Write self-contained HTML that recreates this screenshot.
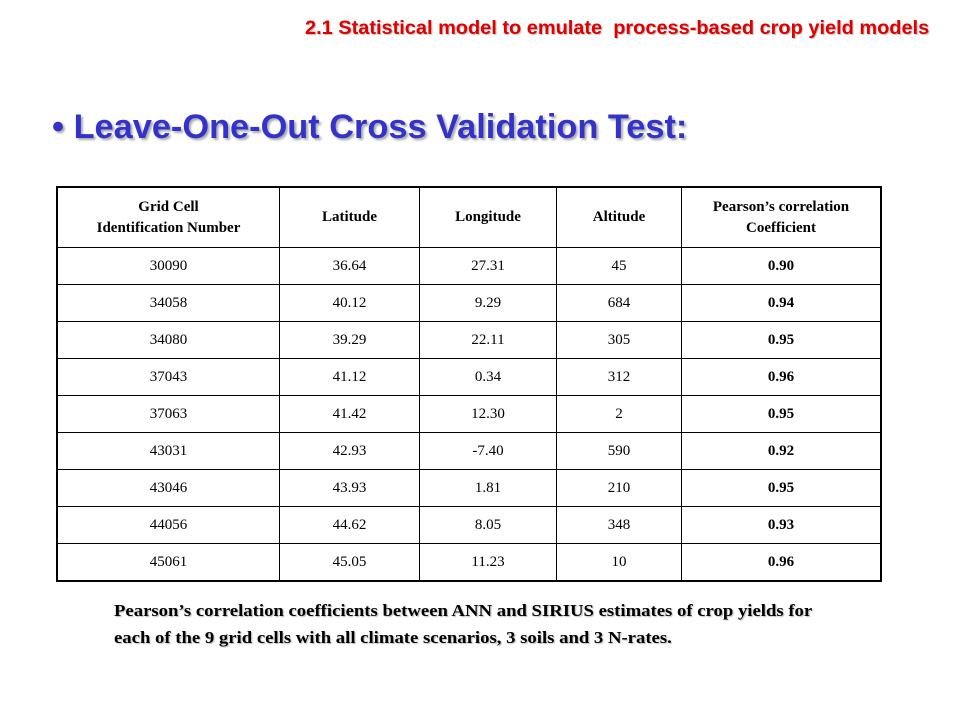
<!DOCTYPE html>
<html><head><meta charset="utf-8"><style>
body{margin:0;width:960px;height:720px;background:#fff;position:relative;overflow:hidden;font-family:"Liberation Serif",serif}
.t{position:absolute;white-space:nowrap}
#sub{left:305px;top:18px;color:#e00000;font:bold 19px "Liberation Sans",sans-serif;text-shadow:1px 1px 1px #bbb;transform-origin:left;transform:scaleX(1.05)}
#head{left:52px;top:108px;color:#3333cc;font:bold 34px "Liberation Sans",sans-serif;text-shadow:2px 2px 2px #aaa;transform-origin:left;transform:scaleX(1.01)}
table{position:absolute;left:56px;top:186px;border-collapse:collapse;border:2px solid #000}
td,th{border:1px solid #000;text-align:center;font-size:15px;padding:0;height:36px}
th{height:59px;font-weight:bold;line-height:21px}
td.b{font-weight:bold}
.cap{left:114px;font:bold 17px "Liberation Serif",serif;text-shadow:1px 1px 1px #bbb;transform-origin:left;transform:scaleX(1.1)}
</style></head><body>
<div class="t" id="sub">2.1 Statistical model to emulate &nbsp;process-based crop yield models</div>
<div class="t" id="head">• Leave-One-Out Cross Validation Test:</div>
<table>
<tr><th style="width:221px">Grid Cell<br>Identification Number</th><th style="width:139px">Latitude</th><th style="width:136px">Longitude</th><th style="width:124px">Altitude</th><th style="width:198px">Pearson’s correlation<br>Coefficient</th></tr>
<tr><td>30090</td><td>36.64</td><td>27.31</td><td>45</td><td class="b">0.90</td></tr>
<tr><td>34058</td><td>40.12</td><td>9.29</td><td>684</td><td class="b">0.94</td></tr>
<tr><td>34080</td><td>39.29</td><td>22.11</td><td>305</td><td class="b">0.95</td></tr>
<tr><td>37043</td><td>41.12</td><td>0.34</td><td>312</td><td class="b">0.96</td></tr>
<tr><td>37063</td><td>41.42</td><td>12.30</td><td>2</td><td class="b">0.95</td></tr>
<tr><td>43031</td><td>42.93</td><td>-7.40</td><td>590</td><td class="b">0.92</td></tr>
<tr><td>43046</td><td>43.93</td><td>1.81</td><td>210</td><td class="b">0.95</td></tr>
<tr><td>44056</td><td>44.62</td><td>8.05</td><td>348</td><td class="b">0.93</td></tr>
<tr><td>45061</td><td>45.05</td><td>11.23</td><td>10</td><td class="b">0.96</td></tr>
</table>
<div class="t cap" style="top:601px">Pearson’s correlation coefficients between ANN and SIRIUS estimates of crop yields for</div>
<div class="t cap" style="top:628px">each of the 9 grid cells with all climate scenarios, 3 soils and 3 N-rates.</div>
</body></html>
